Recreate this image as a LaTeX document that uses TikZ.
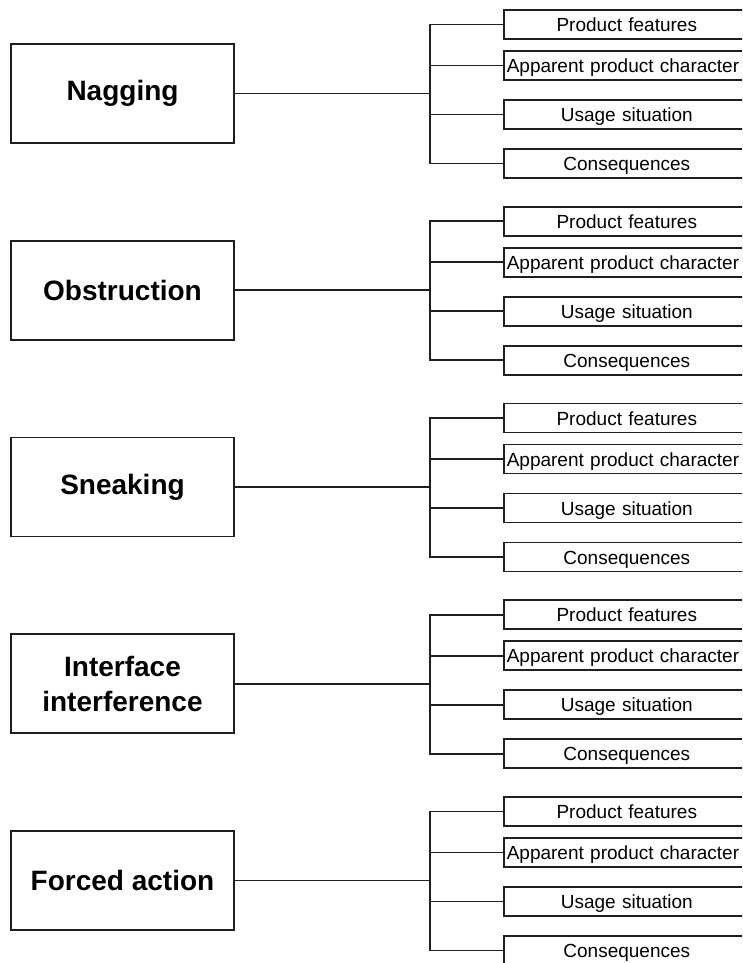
\documentclass[tikz,border=0pt]{standalone}
\usepackage{fontspec}
\setmainfont{Liberation Sans}
\begin{document}
\begin{tikzpicture}[x=1pt,y=-1pt,
  conn/.style={draw=black!88, line width=1.6pt},
  mainbox/.style={draw=black!88, line width=1.6pt, minimum width=223pt, minimum height=99pt,
    inner sep=0pt, align=center, font=\fontsize{28}{35}\selectfont\bfseries},
  subbox/.style={draw=black!88, line width=1.6pt, anchor=west, minimum height=29pt,
    text width=240pt, text height=18pt, text depth=4pt, inner xsep=3pt, inner ysep=0pt, align=center,
    font=\fontsize{19}{22}\selectfont},
  subleft/.style={subbox, align=left}]
\useasboundingbox (0,0) rectangle (742,963);
\clip (0,0) rectangle (742,963);
\fill[white] (0,0) rectangle (742,963);
\foreach \k/\name in {0/Nagging,1/Obstruction,2/Sneaking,3/{Interface\\interference},4/Forced action}{
  \pgfmathsetmacro{\o}{196.75*\k}
  \node[mainbox] (m\k) at (122.5,93.5+\o) {\name};
  \node[subbox]  (a\k) at (503,24.5+\o) {Product features};
  \node[subleft] (b\k) at (503,65.5+\o) {Apparent product character};
  \node[subbox]  (c\k) at (503,114.5+\o) {Usage situation};
  \node[subbox]  (d\k) at (503,163.5+\o) {Consequences};
  \coordinate (j\k) at (430,93.5+\o);
  \draw[conn] (m\k.east) -- (j\k);
  \draw[conn] (j\k) |- (a\k.west);
  \draw[conn] (j\k) |- (b\k.west);
  \draw[conn] (j\k) |- (c\k.west);
  \draw[conn] (j\k) |- (d\k.west);
}
\end{tikzpicture}
\end{document}
